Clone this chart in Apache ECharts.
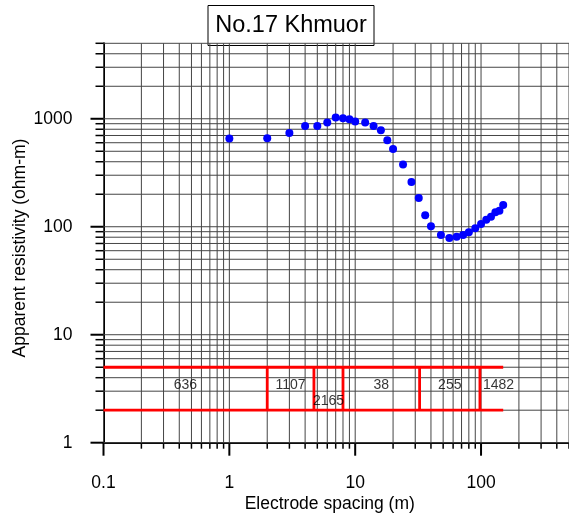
<!DOCTYPE html>
<html>
<head>
<meta charset="utf-8">
<script src="https://cdn.jsdelivr.net/npm/echarts@6/dist/echarts.min.js"></script>
<style>html,body{margin:0;padding:0;background:#fff}#c{width:569px;height:520px}</style>
</head>
<body>
<div id="c"></div>
<script>
// ---- data ----
const titleText = 'No.17 Khmuor';
const spacing = [1,2,3,4,5,6,7,8,9,10,12,14,16,18,20,24,28,32,36,40,48,56,64,72,80,90,100,110,120,130,140,150];
const resistivity = [655,659,739,855,855,922,1030,1010,990,942,922,859,782,631,525,377,259,185,128,101,84,78.5,81,84,89,97,106,116,124,136,141,159];
const layerRes = [636,1107,2165,38,255,1482];
const layerBounds = [2,4.7,8,32.5,98];
const modelTop = 5, modelBottom = 2, modelEnd = 150;
const xTickLabels = [0.1,1,10,100];
const yTickLabels = [1,10,100,1000];
const xMin = 0.1, xMax = 500, yMin = 1, yMax = 5000;

// ---- grid line positions (1..9 x 10^k) ----
function logGrid(lo, hi){
  const out = [];
  for (let k = Math.floor(Math.log10(lo)); k <= Math.ceil(Math.log10(hi)); k++){
    for (let m = 1; m <= 9; m++){
      const v = parseFloat((m*Math.pow(10,k)).toPrecision(6));
      if (v >= lo*0.9999 && v <= hi*1.0001) out.push([v, m === 1 ? 1 : 0]);
    }
  }
  return out;
}
const xGrid = logGrid(xMin, xMax).map(d => [d[0], yMin, d[1]]);
const yGrid = logGrid(yMin, yMax).map(d => [xMin, d[0], d[1]]);
const gridColor = '#454545';

function renderXGrid(params, api){
  const v = api.value(0), major = api.value(2);
  const t = api.coord([v, yMax]), b = api.coord([v, yMin]);
  return {type:'group', children:[
    {type:'line', shape:{x1:t[0],y1:t[1],x2:b[0],y2:b[1]}, style:{stroke:gridColor,lineWidth:1}},
    {type:'line', shape:{x1:b[0],y1:b[1],x2:b[0],y2:b[1]+(major?13:6)}, style:{stroke:'#000',lineWidth:major?2:1.5}}
  ]};
}
function renderYGrid(params, api){
  const v = api.value(1), major = api.value(2);
  const l = api.coord([xMin, v]), r = api.coord([xMax, v]);
  return {type:'group', children:[
    {type:'line', shape:{x1:l[0],y1:l[1],x2:r[0],y2:r[1]}, style:{stroke:gridColor,lineWidth:1}},
    {type:'line', shape:{x1:l[0]-(major?13:8),y1:l[1],x2:l[0],y2:l[1]}, style:{stroke:'#000',lineWidth:major?2:1.5}}
  ]};
}

// ---- model (red) ----
const red = '#ff0000';
const modelSeries = [
  {type:'line', data:[[xMin,modelTop],[modelEnd,modelTop]]},
  {type:'line', data:[[xMin,modelBottom],[modelEnd,modelBottom]]}
].concat(layerBounds.map(b => ({type:'line', data:[[b,modelBottom],[b,modelTop]]})))
 .map(s => Object.assign(s, {symbol:'none', silent:true, z:5, lineStyle:{color:red,width:2.8}, animation:false}));

const midY = Math.sqrt(modelTop*modelBottom);
const labelData = layerRes.map((r, i) => {
  const left = i === 0 ? xMin : layerBounds[i-1];
  const last = i === layerRes.length - 1;
  const right = last ? null : layerBounds[i];
  const narrow = !last && Math.log10(right/left) < 0.3;
  return {
    value: [last ? left : Math.sqrt(left*right), midY],
    label: {
      formatter: String(r),
      align: last ? 'left' : 'center',
      offset: last ? [3,-4] : (narrow ? [0,12] : [0,-4])
    }
  };
});

const fontFam = '"Liberation Sans", Arial, sans-serif';
const option = {
  animation:false,
  backgroundColor:'#fff',
  grid:{left:103.5, top:43.3, right:0, bottom:77.3, containLabel:false, outerBoundsMode:'none'},
  xAxis:{
    type:'log', logBase:10, min:xMin, max:xMax,
    axisLine:{show:true, onZero:false, lineStyle:{color:'#000', width:2}},
    axisTick:{show:false}, splitLine:{show:false}, minorTick:{show:false},
    axisLabel:{margin:31, fontSize:17.5, color:'#000', fontFamily:fontFam,
      customValues: xTickLabels, formatter: v => String(v), hideOverlap:false},
    name:'Electrode spacing (m)', nameLocation:'middle', nameGap:52, nameMoveOverlap:false,
    nameTextStyle:{fontSize:17.5, color:'#000', fontFamily:fontFam, padding:[0,13,0,0]}
  },
  yAxis:{
    type:'log', logBase:10, min:yMin, max:yMax,
    axisLine:{show:true, onZero:false, lineStyle:{color:'#000', width:2}},
    axisTick:{show:false}, splitLine:{show:false}, minorTick:{show:false},
    axisLabel:{margin:31, fontSize:17.5, color:'#000', fontFamily:fontFam,
      customValues: yTickLabels, formatter: v => String(v), hideOverlap:false},
    name:'Apparent resistivity (ohm-m)', nameLocation:'middle', nameGap:74, nameMoveOverlap:false,
    nameTextStyle:{fontSize:17.5, color:'#000', fontFamily:fontFam, padding:[0,10,0,0]}
  },
  series:[
    {type:'custom', renderItem:renderXGrid, data:xGrid, encode:{x:0,y:1}, silent:true, z:1, clip:false},
    {type:'custom', renderItem:renderYGrid, data:yGrid, encode:{x:0,y:1}, silent:true, z:1, clip:false},
    ...modelSeries,
    {type:'scatter', data:labelData, symbolSize:0, silent:true, z:6,
      label:{show:true, position:'inside', color:'#000', fontSize:14, fontFamily:fontFam}},
    {type:'scatter', data:spacing.map((x,i)=>[x,resistivity[i]]), symbol:'circle', symbolSize:8,
      itemStyle:{color:'#0000ff', opacity:1}, z:8}
  ],
  graphic:[{
    type:'group', left:207.5, top:5, z:100,
    children:[
      {type:'rect', shape:{x:0,y:0,width:166,height:40}, style:{fill:'#fff', stroke:'#000', lineWidth:1}},
      {type:'text', x:83, y:20, style:{text:titleText, fontSize:23.5, fontFamily:fontFam, fill:'#000', align:'center', verticalAlign:'middle'}}
    ]
  }]
};
const chart = echarts.init(document.getElementById('c'), null, {renderer:'canvas'});
chart.setOption(option);
</script>
</body>
</html>
